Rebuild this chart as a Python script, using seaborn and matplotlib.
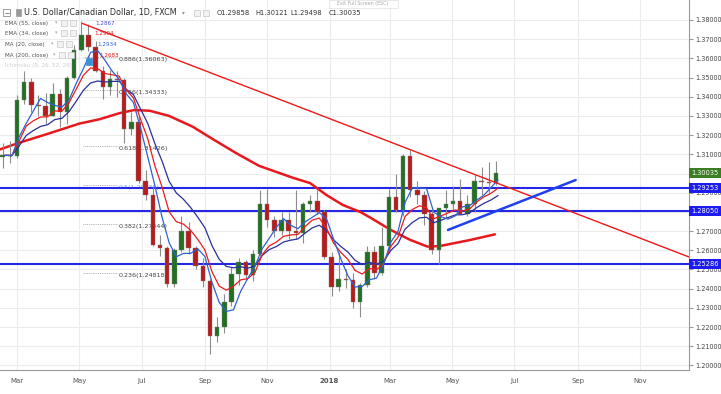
import numpy as np
import pandas as pd
import matplotlib
matplotlib.use("Agg")
from matplotlib import pyplot as plt
from matplotlib.patches import Rectangle
from matplotlib.ticker import FuncFormatter
import seaborn as sns

sns.set_style("white")
plt.rcParams['font.family'] = ['DejaVu Sans']

# weekly candles (week starting monday)
week_start = pd.date_range("2017-02-13", periods=70, freq="W-MON")
opens = [1.3085, 1.3095, 1.3090, 1.3385, 1.3475, 1.3355, 1.3350, 1.3300, 1.3415, 1.3320,
         1.3500, 1.3645, 1.3720, 1.3660, 1.3535, 1.3450, 1.3495, 1.3485, 1.3230, 1.3270,
         1.2960, 1.2890, 1.2630, 1.2610, 1.2425, 1.2600, 1.2700, 1.2610, 1.2520, 1.2440,
         1.2155, 1.2200, 1.2330, 1.2475, 1.2540, 1.2470, 1.2580, 1.2840, 1.2760, 1.2700,
         1.2760, 1.2700, 1.2690, 1.2840, 1.2855, 1.2800, 1.2565, 1.2410, 1.2450, 1.2445,
         1.2330, 1.2420, 1.2590, 1.2480, 1.2620, 1.2880, 1.2810, 1.3090, 1.2915, 1.2890,
         1.2790, 1.2600, 1.2820, 1.2840, 1.2855, 1.2790, 1.2840, 1.2960, 1.2955, 1.2950]
highs = [1.3160, 1.3170, 1.3410, 1.3535, 1.3500, 1.3410, 1.3420, 1.3470, 1.3440, 1.3510,
         1.3670, 1.3793, 1.3780, 1.3690, 1.3560, 1.3540, 1.3535, 1.3500, 1.3320, 1.3300,
         1.3020, 1.2930, 1.2680, 1.2620, 1.2610, 1.2780, 1.2745, 1.2620, 1.2560, 1.2450,
         1.2250, 1.2370, 1.2515, 1.2560, 1.2550, 1.2600, 1.2915, 1.2920, 1.2780, 1.2800,
         1.2800, 1.2915, 1.2850, 1.2890, 1.2915, 1.2810, 1.2590, 1.2590, 1.2500, 1.2480,
         1.2430, 1.2620, 1.2620, 1.2720, 1.2920, 1.3000, 1.3100, 1.3125, 1.2960, 1.2910,
         1.2810, 1.2820, 1.2915, 1.2935, 1.2970, 1.2890, 1.2995, 1.3035, 1.3060, 1.3065]
lows = [1.3030, 1.3055, 1.3080, 1.3360, 1.3320, 1.3300, 1.3260, 1.3300, 1.3240, 1.3260,
        1.3490, 1.3640, 1.3640, 1.3530, 1.3390, 1.3410, 1.3400, 1.3160, 1.3200, 1.2950,
        1.2860, 1.2620, 1.2570, 1.2410, 1.2410, 1.2590, 1.2580, 1.2500, 1.2410, 1.2061,
        1.2120, 1.2170, 1.2310, 1.2420, 1.2450, 1.2440, 1.2570, 1.2720, 1.2670, 1.2680,
        1.2660, 1.2660, 1.2640, 1.2800, 1.2790, 1.2555, 1.2360, 1.2390, 1.2405, 1.2300,
        1.2250, 1.2410, 1.2450, 1.2470, 1.2600, 1.2800, 1.2780, 1.2880, 1.2840, 1.2730,
        1.2580, 1.2528, 1.2770, 1.2810, 1.2790, 1.2780, 1.2800, 1.2890, 1.2900, 1.2940]
closes = [1.3095, 1.3090, 1.3385, 1.3475, 1.3355, 1.3350, 1.3300, 1.3415, 1.3320, 1.3500,
          1.3645, 1.3720, 1.3660, 1.3535, 1.3450, 1.3495, 1.3485, 1.3230, 1.3270, 1.2960,
          1.2890, 1.2630, 1.2610, 1.2425, 1.2600, 1.2700, 1.2610, 1.2520, 1.2440, 1.2155,
          1.2200, 1.2330, 1.2475, 1.2540, 1.2470, 1.2580, 1.2840, 1.2760, 1.2700, 1.2760,
          1.2700, 1.2690, 1.2840, 1.2855, 1.2800, 1.2565, 1.2410, 1.2450, 1.2445, 1.2330,
          1.2420, 1.2590, 1.2480, 1.2620, 1.2880, 1.2810, 1.3090, 1.2915, 1.2890, 1.2790,
          1.2600, 1.2820, 1.2840, 1.2855, 1.2790, 1.2840, 1.2960, 1.2955, 1.2950, 1.30035]

# 200-day MA
ma200_dates = ["2017-02-12", "2017-03-03", "2017-04-02", "2017-05-01", "2017-05-21",
               "2017-06-09", "2017-06-24", "2017-07-09", "2017-07-28", "2017-08-20",
               "2017-09-10", "2017-10-02", "2017-10-24", "2017-11-26", "2017-12-13",
               "2017-12-29", "2018-01-14", "2018-01-31", "2018-02-10", "2018-03-02",
               "2018-03-21", "2018-04-07", "2018-04-19", "2018-05-19", "2018-06-12"]
ma200_vals = [1.3125, 1.3160, 1.3210, 1.3260, 1.3283, 1.3314, 1.3331, 1.3327, 1.3300, 1.3244,
              1.3175, 1.3105, 1.3040, 1.2978, 1.2950, 1.2888, 1.2836, 1.2800, 1.2770, 1.2706,
              1.2654, 1.2619, 1.2622, 1.2654, 1.2683]

support_levels = [1.29253, 1.28050, 1.25286]
last_close = 1.30035

fib_ratios = ["0.236", "0.382", "0.5", "0.618", "0.786", "0.886"]
fib_prices = [1.24818, 1.27344, 1.29385, 1.31426, 1.34333, 1.36063]

down_dates = ["2017-05-04", "2018-12-19"]
down_vals = [1.3782, 1.2565]
up_dates = ["2018-04-27", "2018-08-30"]
up_vals = [1.2706, 1.2966]

month_ticks = ["2017-03-01", "2017-05-01", "2017-07-01", "2017-09-01", "2017-11-01", "2018-01-01",
               "2018-03-01", "2018-05-01", "2018-07-01", "2018-09-01", "2018-11-01"]
month_labels = ["Mar", "May", "Jul", "Sep", "Nov", "2018", "Mar", "May", "Jul", "Sep", "Nov"]

legend_names = ["EMA (55, close)", "EMA (34, close)", "MA (20, close)", "MA (200, close)"]
legend_values = ["1.2867", "1.2904", "1.2934", "1.2683"]

# ---------------------------------------------------------------
df = pd.DataFrame({"open": opens, "high": highs, "low": lows, "close": closes}, index=week_start)
mid = df.index + pd.Timedelta(days=2)
fri = df.index + pd.Timedelta(days=4)
df["ma20"] = df["close"].rolling(4, min_periods=1).mean()
df["ema34"] = df["close"].ewm(span=6.8, adjust=False).mean()
df["ema55"] = df["close"].ewm(span=11, adjust=False).mean()

W, H = 721, 394
fig = plt.figure(figsize=(W / 100, H / 100), dpi=100)
fig.patch.set_facecolor("white")
ax = fig.add_axes([0, 24 / H, 689 / W, 370 / H])


def xdate(px):
    return pd.Timestamp("2017-03-01") + pd.Timedelta(days=(px - 17) / 1.0213)


ax.set_xlim(xdate(0), xdate(689))
ax.set_ylim(1.19761, 1.39042)

ax.set_yticks(np.round(np.arange(1.20, 1.3801, 0.01), 2))
ax.yaxis.set_major_formatter(FuncFormatter(lambda v, p: "%.5f" % v))
ax.yaxis.tick_right()
ax.set_xticks(pd.to_datetime(month_ticks))
ax.set_xticklabels(month_labels)
for lab in ax.get_xticklabels():
    if lab.get_text() == "2018":
        lab.set_fontweight("bold")
        lab.set_color("#333333")
ax.grid(True, color="#ececec", lw=0.8, zorder=0)
ax.set_axisbelow(True)
ax.tick_params(axis="y", length=3, color="#999999", labelsize=4.7, labelcolor="#444444", pad=1.5)
ax.tick_params(axis="x", length=3, color="#999999", labelsize=5, labelcolor="#555555", pad=3)
for s in ["top", "left"]:
    ax.spines[s].set_visible(False)
for s in ["right", "bottom"]:
    ax.spines[s].set_color("#999999")
    ax.spines[s].set_linewidth(0.8)

# support lines
for lv in support_levels:
    ax.axhline(lv, color="#2626e6", lw=1.5, zorder=2)

# fib retracement
ax.hlines(fib_prices, xdate(83), xdate(118), colors="#9a9a9a", linestyles=(0, (1, 1.2)), lw=0.6, zorder=1)
for r, p in zip(fib_ratios, fib_prices):
    ax.text(xdate(119), p, "%s(%.5f)" % (r, p), fontsize=4.6, va="top",
            color="#7aa7e0" if r == "0.5" else "#444444", zorder=1)

# candles
o = df["open"].values
c = df["close"].values
up = c >= o
ax.vlines(mid, df["low"], df["high"], color="#8c8c8c", lw=0.8, zorder=3)
ax.bar(mid, np.abs(c - o), bottom=np.minimum(o, c), width=4.4,
       color=np.where(up, "#237023", "#b81b1b"), edgecolor="#808080", linewidth=0.3, zorder=3.5)

# moving averages
sns.lineplot(x=pd.to_datetime(ma200_dates), y=ma200_vals, ax=ax, color="#e8191e", lw=1.8, zorder=2.5)
sns.lineplot(x=fri, y=df["ema55"].values, ax=ax, color="#2a2f9c", lw=0.9, zorder=4)
sns.lineplot(x=fri, y=df["ema34"].values, ax=ax, color="#ee1c1c", lw=0.9, zorder=4)
sns.lineplot(x=fri, y=df["ma20"].values, ax=ax, color="#2f62cc", lw=0.9, zorder=4)

# trend lines
ax.plot(pd.to_datetime(down_dates), down_vals, color="#f01818", lw=1.0, zorder=4)
ax.plot(pd.to_datetime(up_dates), up_vals, color="#2040f0", lw=1.8, zorder=4)
ax.set_xlabel("")
ax.set_ylabel("")

# price tags on the scale
ytf = ax.get_yaxis_transform()
for lv in support_levels:
    ax.text(1.003, lv, "%.5f" % lv, transform=ytf, ha="left", va="center", fontsize=4.8, color="white",
            bbox=dict(boxstyle="square,pad=0.35", fc="#1c1cf0", ec="none"), clip_on=False, zorder=6)
ax.text(1.003, last_close, "%.5f" % last_close, transform=ytf, ha="left", va="center", fontsize=4.8,
        color="white", bbox=dict(boxstyle="square,pad=0.35", fc="#3a7d22", ec="none"), clip_on=False, zorder=6)

# header overlay in pixel coordinates
ov = fig.add_axes([0, 0, 1, 1], zorder=5)
ov.set_xlim(0, W)
ov.set_ylim(H, 0)
ov.axis("off")
ov.patch.set_alpha(0)


def icon(x, y, w=6, h=6, fc="#f2f2f2", ec="#c8c8c8"):
    ov.add_patch(Rectangle((x, y), w, h, fc=fc, ec=ec, lw=0.5))


icon(3, 9, 7, 7, fc="white", ec="#777777")
ov.plot([4.5, 8.5], [12.5, 12.5], color="#777777", lw=0.6)
icon(16, 9, 5, 7, fc="#9a9a9a", ec="#9a9a9a")
ov.text(24, 12.5, "U.S. Dollar/Canadian Dollar, 1D, FXCM", fontsize=5.8, color="#2a2a2a", va="center")
ov.text(182, 12.5, "\u25be", fontsize=4, color="#999999", va="center")
icon(194, 9.5)
icon(203, 9.5)
for xx, t in zip([217, 255, 290, 329], ["O1.29858", "H1.30121", "L1.29498", "C1.30035"]):
    ov.text(xx, 12.5, t, fontsize=4.9, color="#333333", va="center")
ov.add_patch(Rectangle((329, 0), 69, 7.5, fc="white", ec="#dddddd", lw=0.5, alpha=0.9))
ov.text(363, 3.8, "Exit Full Screen (ESC)", fontsize=3.4, color="#aaaaaa", ha="center", va="center")

row_y = [23, 33, 44, 55]
val_x = [95, 94, 97, 99]
box_x = [61, 61, 57, 59]
val_colors = ["#4a4ad0", "#e8191e", "#2f62cc", "#e8191e"]
for name, val, yy, vx, bx, vc in zip(legend_names, legend_values, row_y, val_x, box_x, val_colors):
    ov.text(5, yy, name, fontsize=4.1, color="#555555", va="center")
    ov.text(bx - 6, yy, "\u25be", fontsize=3.5, color="#aaaaaa", va="center")
    icon(bx, yy - 3)
    icon(bx + 9, yy - 3)
    ov.text(vx, yy, val, fontsize=4.1, color=vc, va="center")
ov.text(5, 65, "Ichimoku (9, 26, 52, 26)", fontsize=4.1, color="#cfcfcf", va="center")
icon(86, 58, 6, 7, fc="#3d8fd8", ec="#3d8fd8")

fig.savefig("out.png", dpi=100, facecolor="white")
